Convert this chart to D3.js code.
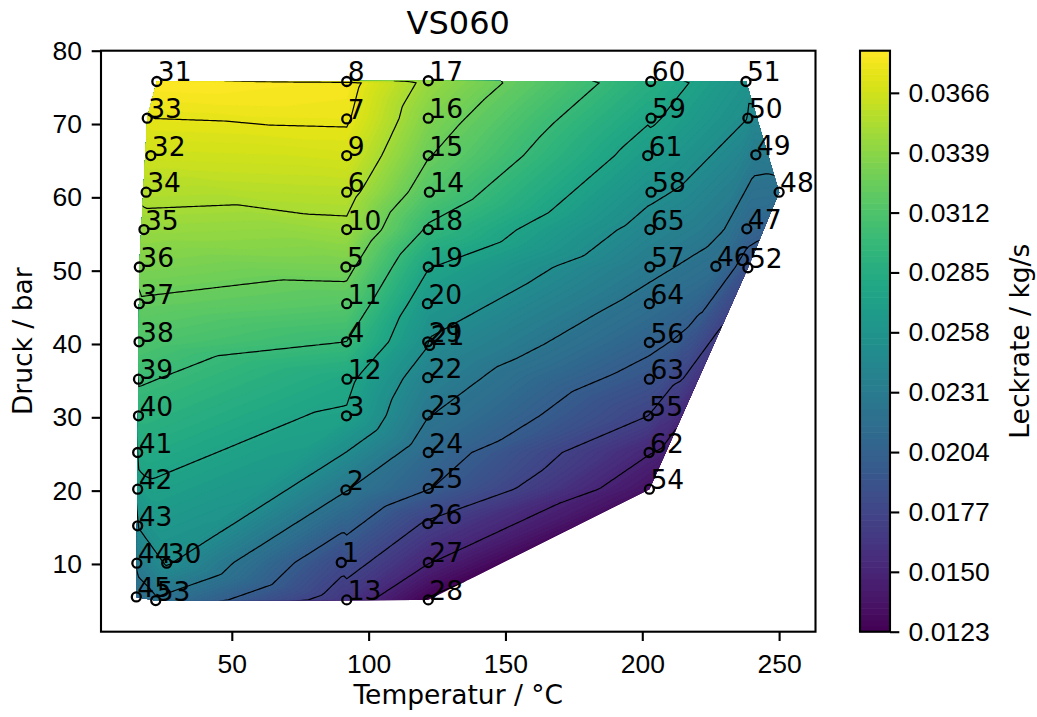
<!DOCTYPE html>
<html>
<head>
<meta charset="utf-8">
<title>VS060</title>
<style>
  body { margin: 0; background: #fff; }
  svg { font-family: "DejaVu Sans", sans-serif; }
  .axis line { stroke: #000; stroke-width: 2.1; }
  .axis path { display: none; }
  .axis text { font-size: 26.5px; fill: #000; }
  .frame { fill: none; stroke: #000; stroke-width: 2.1; }
  .iso { fill: none; stroke: #000; stroke-width: 1.2; }
  .pt { fill: none; stroke: #000; stroke-width: 2.3; }
  .ptlabel { font-size: 26.5px; fill: #000; }
  .label { font-size: 26.5px; fill: #000; }
  .title { font-size: 32px; fill: #000; }
</style>
</head>
<body>
<div id="chart"></div>
<script src="https://cdn.jsdelivr.net/npm/d3@7"></script>
<script>
// measuring points: number, temperature (°C), pressure (bar), leak rate (kg/s)
var ptId = [1, 2, 3, 4, 5, 6, 7, 8, 9, 10, 11, 12, 13, 14, 15, 16, 17, 18, 19, 20,
  21, 22, 23, 24, 25, 26, 27, 28, 29, 30, 31, 32, 33, 34, 35, 36, 37, 38, 39, 40,
  41, 42, 43, 44, 45, 46, 47, 48, 49, 50, 51, 52, 53, 54, 55, 56, 57, 58, 59, 60,
  61, 62, 63, 64, 65];
var ptT = [90.0, 91.7, 91.9, 91.9, 91.7, 92.0, 92.0, 92.0, 92.0, 92.0,
  92.0, 92.1, 92.0, 122.2, 121.8, 121.8, 121.8, 121.8, 121.8, 121.5,
  122.3, 121.6, 121.6, 121.8, 121.8, 121.6, 121.8, 121.8, 121.6, 26.2,
  22.6, 20.4, 19.1, 18.7, 17.9, 16.2, 16.2, 16.1, 15.9, 15.9,
  15.6, 15.6, 15.6, 15.3, 15.1, 226.9, 238.2, 250.0, 241.5, 238.6,
  237.9, 238.6, 22.2, 202.6, 202.2, 202.6, 202.8, 203.2, 203.2, 203.1,
  202.0, 202.5, 202.6, 202.6, 202.8];
var ptP = [10.2, 20.1, 30.2, 40.3, 50.5, 60.7, 70.7, 75.8, 65.7, 55.6,
  45.5, 35.2, 5.1, 60.7, 65.7, 70.8, 75.9, 55.6, 50.5, 45.5,
  39.8, 35.4, 30.3, 25.2, 20.3, 15.5, 10.2, 5.1, 40.3, 10.1,
  75.8, 65.7, 70.8, 60.7, 55.6, 50.5, 45.5, 40.3, 35.2, 30.2,
  25.2, 20.2, 15.2, 10.1, 5.5, 50.6, 55.7, 60.7, 65.8, 70.8,
  75.8, 50.4, 5.0, 20.2, 30.2, 40.2, 50.5, 60.7, 70.8, 75.8,
  65.7, 25.2, 35.2, 45.5, 55.6];
var ptLeak = [0.0181, 0.0226, 0.0273, 0.0300, 0.0331, 0.0357, 0.0377, 0.0382, 0.0368, 0.0346,
  0.0316, 0.0280, 0.0163, 0.0314, 0.0326, 0.0335, 0.0345, 0.0297, 0.0276, 0.0262,
  0.0247, 0.0237, 0.0226, 0.0212, 0.0201, 0.0172, 0.0151, 0.0123, 0.0252, 0.0252,
  0.0385, 0.0365, 0.0374, 0.03545, 0.0344, 0.0333, 0.0323, 0.0312, 0.0302, 0.0292,
  0.0281, 0.0267, 0.02505, 0.0231, 0.0214, 0.0217, 0.0210, 0.0219, 0.0231, 0.0250,
  0.0258, 0.0189, 0.0222, 0.0135, 0.0175, 0.0205, 0.0230, 0.0254, 0.0278, 0.0287,
  0.0266, 0.0151, 0.0191, 0.0218, 0.0242];

var xTicks = [50, 100, 150, 200, 250];
var yTicks = [10, 20, 30, 40, 50, 60, 70, 80];
var cbTicks = [0.0123, 0.0150, 0.0177, 0.0204, 0.0231, 0.0258, 0.0285, 0.0312, 0.0339, 0.0366];
var lineLevels = [0.0125, 0.0150, 0.0175, 0.0200, 0.0225, 0.0250, 0.0275, 0.0300, 0.0325, 0.0350, 0.0375];
var vMin = 0.0123, vMax = 0.0385;
var nFill = 100;
var fillLevels = d3.range(nFill).map(function(i) { return vMin + i * (vMax - vMin) / (nFill - 1); });

var width = 1037, height = 717;
var box = { left: 101, right: 815.5, top: 50.7, bottom: 631.7 };

var svg = d3.select("#chart").append("svg")
  .attr("width", width)
  .attr("height", height);

var xScale = d3.scaleLinear().domain([2.2, 263.3]).range([box.left, box.right]);
var yScale = d3.scaleLinear().domain([0.76, 80.0]).range([box.bottom, box.top]);

// triangulation in data coordinates, linear interpolation on the triangles
var pts = ptT.map(function(t, i) { return [t, ptP[i]]; });
var delaunay = d3.Delaunay.from(pts);
var tri = delaunay.triangles;
var tris = [];
for (var k = 0; k < tri.length; k += 3) {
  var a = tri[k], b = tri[k + 1], c = tri[k + 2];
  var ax = ptT[a], ay = ptP[a], bx = ptT[b], by = ptP[b], cx = ptT[c], cy = ptP[c];
  var det = (by - cy) * (ax - cx) + (cx - bx) * (ay - cy);
  if (Math.abs(det) < 1e-12) continue;
  tris.push({ a: a, b: b, c: c, ax: ax, ay: ay, bx: bx, by: by, cx: cx, cy: cy, det: det,
    x0: Math.min(ax, bx, cx), x1: Math.max(ax, bx, cx), y0: Math.min(ay, by, cy), y1: Math.max(ay, by, cy) });
}
var hullIdx = Array.from(delaunay.hull);

function interp(x, y) {
  for (var i = 0; i < tris.length; i++) {
    var t = tris[i];
    if (x < t.x0 - 1e-9 || x > t.x1 + 1e-9 || y < t.y0 - 1e-9 || y > t.y1 + 1e-9) continue;
    var l1 = ((t.by - t.cy) * (x - t.cx) + (t.cx - t.bx) * (y - t.cy)) / t.det;
    var l2 = ((t.cy - t.ay) * (x - t.cx) + (t.ax - t.cx) * (y - t.cy)) / t.det;
    var l3 = 1 - l1 - l2;
    if (l1 >= -1e-9 && l2 >= -1e-9 && l3 >= -1e-9) {
      return l1 * ptLeak[t.a] + l2 * ptLeak[t.b] + l3 * ptLeak[t.c];
    }
  }
  return edgeValue(x, y);
}

// outside the hull: value of the nearest hull point (only used under the clip)
function edgeValue(x, y) {
  var px = xScale(x), py = yScale(y), best = Infinity, val = vMin;
  for (var k = 0; k < hullIdx.length; k++) {
    var a = hullIdx[k], b = hullIdx[(k + 1) % hullIdx.length];
    var ax = xScale(ptT[a]), ay = yScale(ptP[a]), bx = xScale(ptT[b]), by = yScale(ptP[b]);
    var ex = bx - ax, ey = by - ay;
    var t = ((px - ax) * ex + (py - ay) * ey) / (ex * ex + ey * ey);
    t = Math.max(0, Math.min(1, t));
    var qx = ax + t * ex - px, qy = ay + t * ey - py, d = qx * qx + qy * qy;
    if (d < best) { best = d; val = ptLeak[a] + t * (ptLeak[b] - ptLeak[a]); }
  }
  return val;
}

// regular grid
var gx0 = 10, sx = 1.0, nx = 246;
var gy0 = 3, sy = 0.3, ny = 251;
var grid = new Float64Array(nx * ny);
for (var j = 0; j < ny; j++) {
  for (var i = 0; i < nx; i++) {
    grid[i + j * nx] = interp(gx0 + i * sx, gy0 + j * sy);
  }
}

var proj = d3.geoTransform({
  point: function(px, py) {
    this.stream.point(xScale(gx0 + (px - 0.5) * sx), yScale(gy0 + (py - 0.5) * sy));
  }
});
var path = d3.geoPath(proj);

var hullPx = delaunay.hullPolygon().map(function(p) { return [xScale(p[0]), yScale(p[1])]; });
svg.append("clipPath")
  .attr("id", "hullclip")
  .append("polygon")
  .attr("points", hullPx.map(function(p) { return p.join(","); }).join(" "));

var fillThresholds = fillLevels.slice(0, nFill - 1);
fillThresholds[0] = vMin - 1e-5;
var bands = d3.contours().size([nx, ny]).thresholds(fillThresholds)(grid);

var gFill = svg.append("g").attr("clip-path", "url(#hullclip)");
gFill.selectAll("path")
  .data(bands)
  .enter().append("path")
  .attr("d", path)
  .attr("fill", function(d, i) { return d3.interpolateViridis((i + 0.5) / (nFill - 1)); })
  .attr("stroke", function(d, i) { return d3.interpolateViridis((i + 0.5) / (nFill - 1)); })
  .attr("stroke-width", 0.6);

var isolines = d3.contours().size([nx, ny]).thresholds(lineLevels)(grid);
svg.append("g").attr("clip-path", "url(#hullclip)")
  .selectAll("path")
  .data(isolines)
  .enter().append("path")
  .attr("class", "iso")
  .attr("d", path);

// measuring points
svg.append("g").selectAll("circle")
  .data(ptId)
  .enter().append("circle")
  .attr("class", "pt")
  .attr("cx", function(d, i) { return xScale(ptT[i]); })
  .attr("cy", function(d, i) { return yScale(ptP[i]); })
  .attr("r", 4.5);

svg.append("g").selectAll("text")
  .data(ptId)
  .enter().append("text")
  .attr("class", "ptlabel")
  .attr("x", function(d, i) { return xScale(ptT[i]) + 1; })
  .attr("y", function(d, i) { return yScale(ptP[i]); })
  .text(function(d) { return d; });

// axes
svg.append("g")
  .attr("class", "axis")
  .attr("transform", "translate(0," + box.bottom + ")")
  .call(d3.axisBottom(xScale).tickValues(xTicks).tickSize(9.3).tickPadding(12.9));

svg.append("g")
  .attr("class", "axis")
  .attr("transform", "translate(" + box.left + ",0)")
  .call(d3.axisLeft(yScale).tickValues(yTicks).tickSize(9.3).tickPadding(9.7));

svg.append("rect")
  .attr("class", "frame")
  .attr("x", box.left)
  .attr("y", box.top)
  .attr("width", box.right - box.left)
  .attr("height", box.bottom - box.top);

svg.append("text")
  .attr("class", "title")
  .attr("text-anchor", "middle")
  .attr("x", (box.left + box.right) / 2)
  .attr("y", 34.3)
  .text("VS060");

svg.append("text")
  .attr("class", "label")
  .attr("text-anchor", "middle")
  .attr("x", (box.left + box.right) / 2)
  .attr("y", 704)
  .text("Temperatur / °C");

svg.append("text")
  .attr("class", "label")
  .attr("text-anchor", "middle")
  .attr("transform", "translate(31.5," + (box.top + box.bottom) / 2 + ") rotate(-90)")
  .text("Druck / bar");

// colorbar
var cb = { left: 860, right: 890 };
var cbScale = d3.scaleLinear().domain([vMin, vMax]).range([box.bottom, box.top]);
var gCb = svg.append("g");
gCb.selectAll("rect")
  .data(d3.range(nFill - 1))
  .enter().append("rect")
  .attr("x", cb.left)
  .attr("width", cb.right - cb.left)
  .attr("y", function(i) { return cbScale(fillLevels[i + 1]); })
  .attr("height", function(i) { return cbScale(fillLevels[i]) - cbScale(fillLevels[i + 1]) + 0.6; })
  .attr("fill", function(i) { return d3.interpolateViridis((i + 0.5) / (nFill - 1)); });

svg.append("rect")
  .attr("class", "frame")
  .attr("x", cb.left)
  .attr("y", box.top)
  .attr("width", cb.right - cb.left)
  .attr("height", box.bottom - box.top);

svg.append("g")
  .attr("class", "axis")
  .attr("transform", "translate(" + cb.right + ",0)")
  .call(d3.axisRight(cbScale).tickValues(cbTicks).tickFormat(d3.format(".4f")).tickSize(9.3).tickPadding(9.3));

svg.append("text")
  .attr("class", "label")
  .attr("text-anchor", "middle")
  .attr("transform", "translate(1029," + (box.top + box.bottom) / 2 + ") rotate(-90)")
  .text("Leckrate / kg/s");
</script>
</body>
</html>
